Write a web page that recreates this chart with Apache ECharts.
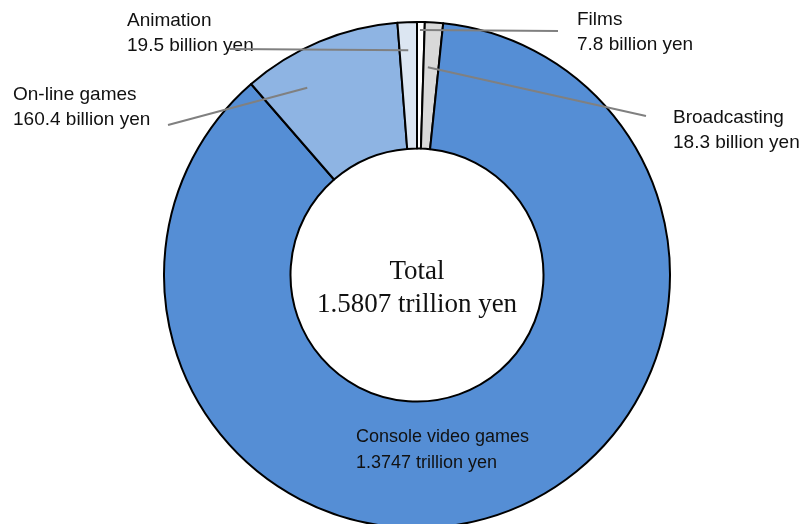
<!DOCTYPE html>
<html>
<head>
<meta charset="utf-8">
<script src="https://cdn.jsdelivr.net/npm/echarts@6/dist/echarts.min.js"></script>
<style>
html,body{margin:0;padding:0;background:#fff;}
#chart{width:810px;height:524px;}
</style>
</head>
<body>
<div id="chart"></div>
<script>
// ---- data ----
const categories = ['Films', 'Broadcasting', 'Console video games', 'On-line games', 'Animation'];
const values = [7.8, 18.3, 1374.7, 160.4, 19.5]; // billion yen
const valueTexts = ['7.8 billion yen', '18.3 billion yen', '1.3747 trillion yen', '160.4 billion yen', '19.5 billion yen'];
const totalTexts = ['Total', '1.5807 trillion yen'];

// ---- styles / layout ----
const colors = ['#FFFFFF', '#D9D9D9', '#558ED5', '#8EB4E3', '#DCE6F2'];
const CX = 417, CY = 275, R_IN = 126.5, R_OUT = 253;
// label placement: text box top-left; leader line anchor (fraction of slice angle, radius) and end point
const labelCfg = [
  { x: 577, y: 7,   frac: 0.39, r: 245, end: [558, 31] },
  { x: 673, y: 105, frac: 0.29, r: 208, end: [646, 116] },
  { x: 356, y: 424, line: false, fontSize: 18 },
  { x: 13,  y: 82,  frac: 0.29, r: 217, end: [168, 125] },
  { x: 127, y: 8,   frac: 0.5,  r: 225, end: [230, 49] }
];

const total = values.reduce((a, b) => a + b, 0);
const cum = [];
values.reduce((acc, v, i) => { cum[i] = acc; return acc + v; }, 0);
function anchorPoint(i, frac, r) {
  const ang = (cum[i] + values[i] * frac) / total * 2 * Math.PI; // clockwise from top
  return [CX + r * Math.sin(ang), CY - r * Math.cos(ang)];
}

const chart = echarts.init(document.getElementById('chart'), null, { renderer: 'canvas' });
const data = categories.map((c, i) => ({
  name: c,
  value: values[i],
  itemStyle: { color: colors[i] },
  label: labelCfg[i].fontSize ? { fontSize: labelCfg[i].fontSize, lineHeight: 26 } : {}
}));

const leaderLines = labelCfg.map((c, i) => c.line === false ? null : {
  type: 'polyline',
  z: 100,
  silent: true,
  shape: { points: [anchorPoint(i, c.frac, c.r), c.end] },
  style: { stroke: '#808080', lineWidth: 2, fill: null }
}).filter(Boolean);

chart.setOption({
  animation: false,
  series: [{
    type: 'pie',
    center: [CX, CY],
    radius: [R_IN, R_OUT],
    startAngle: 90,
    clockwise: true,
    avoidLabelOverlap: false,
    itemStyle: { borderColor: '#000', borderWidth: 2 },
    emphasis: { disabled: true },
    label: {
      show: true,
      position: 'outside',
      formatter: p => p.name + '\n' + valueTexts[p.dataIndex],
      fontFamily: "'Liberation Sans', Arial, sans-serif",
      fontSize: 19,
      lineHeight: 25.5,
      color: '#111',
      align: 'left'
    },
    labelLine: { show: false },
    labelLayout: function (p) {
      const c = labelCfg[p.dataIndex];
      return { x: c.x, y: c.y, align: 'left', verticalAlign: 'top' };
    },
    data: data
  }],
  graphic: [{
    type: 'text',
    x: CX,
    y: 255,
    style: {
      text: totalTexts.join('\n'),
      fontFamily: "'Liberation Serif', 'Times New Roman', serif",
      fontSize: 27,
      lineHeight: 33,
      textAlign: 'center',
      textVerticalAlign: 'top',
      fill: '#111'
    }
  }].concat(leaderLines)
});
</script>
</body>
</html>
